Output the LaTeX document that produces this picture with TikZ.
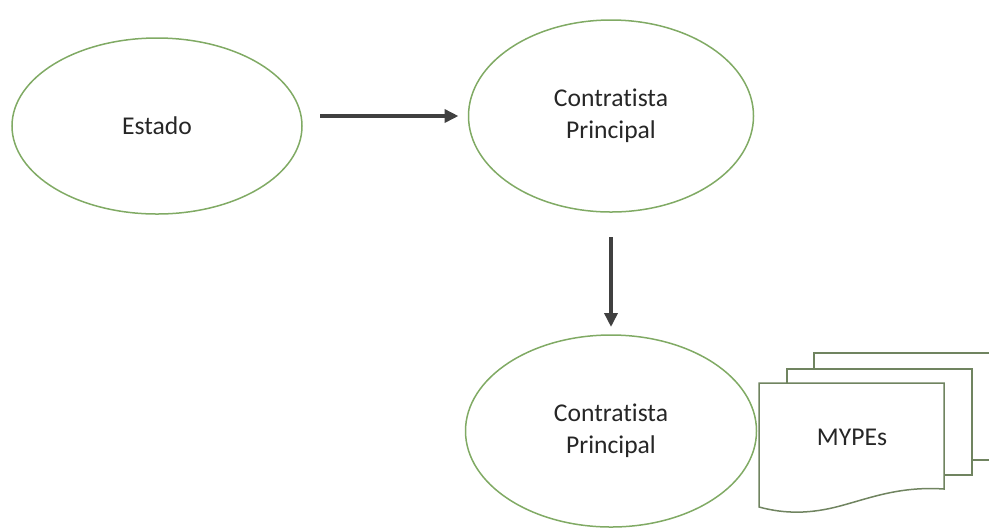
\documentclass[tikz,border=0pt]{standalone}
\usepackage{fontspec}
\setmainfont{Carlito}[Ligatures=NoCommon]
\usepackage{xcolor}
\usepackage{tikz}
\usetikzlibrary{shapes.geometric, arrows.meta}

\definecolor{ovalgreen}{RGB}{128,170,100}
\definecolor{docgreen}{RGB}{112,132,96}
\definecolor{arrowgray}{RGB}{64,64,64}
\definecolor{textgray}{RGB}{38,38,38}

\tikzset{
    oval/.style={ellipse, draw=ovalgreen, line width=0.75pt, inner sep=0pt,
        outer sep=0pt, align=center, text=textgray,
        font=\fontsize{12.8}{16}\selectfont},
    docpage/.style={draw=docgreen, line width=0.75pt, fill=white},
    flow/.style={-{Triangle[length=7pt, width=6.5pt]}, draw=arrowgray,
        line width=2pt}
}

\begin{document}
\begin{tikzpicture}[x=0.5pt, y=-0.5pt]
    \useasboundingbox (0,0) rectangle (989,527);
    \clip (0,0) rectangle (989,527);

    % 1. Los óvalos
    \node[oval, minimum width=145pt, minimum height=88pt] (estado) at (157,126) {Estado};
    \node[oval, minimum width=142.5pt, minimum height=96pt] (cp1) at (611,116)
        {Contratista\\Principal};
    \node[oval, minimum width=145.5pt, minimum height=96pt] (cp2) at (611,431)
        {Contratista\\Principal};

    % 2. Las flechas
    \draw[flow, shorten <=9pt, shorten >=5pt] (estado.east |- cp1.west) -- (cp1.west);
    \draw[flow, shorten <=12.5pt, shorten >=4pt] (cp1.south) -- (cp2.north);

    % 3. Documentos múltiples
    \draw[docpage] (814,353) -- (1000,353) -- (1000,460) -- (814,460) -- cycle;
    \draw[docpage] (787,369) -- (972,369) -- (972,475) -- (787,475) -- cycle;
    \draw[docpage] (759,383) -- (944,383) -- (944,489)
        .. controls (900,486) and (870,498) .. (840,506)
        .. controls (810,514) and (785,514) .. (759,507) -- cycle;
    \node[text=textgray, font=\fontsize{12.8}{16}\selectfont] (mypes) at (852,437) {MYPEs};
\end{tikzpicture}
\end{document}
